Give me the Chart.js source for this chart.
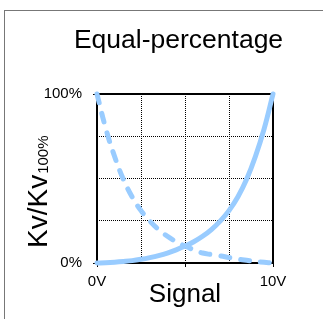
<!DOCTYPE html>
<html><head><meta charset="utf-8">
<script src="https://cdn.jsdelivr.net/npm/chart.js@4"></script>
<style>
html,body{margin:0;padding:0;background:#fff;overflow:hidden}
#wrap{position:relative;width:323px;height:319px}
#frame{position:absolute;left:4px;top:10px;width:400px;height:400px;border-top:1px solid #777;border-left:1px solid #777;box-sizing:border-box}
canvas{position:absolute;left:0;top:0}
</style></head><body>
<div id="wrap"><div id="frame"></div><canvas id="c" width="323" height="319"></canvas></div>
<script>
// Data
const signal = [0, 0.5, 1, 1.5, 2, 2.5, 3, 3.5, 4, 4.5, 5, 5.5, 6, 6.5, 7, 7.5, 8, 8.5, 9, 9.5, 10];
const kvSolid  = [0, 0.2, 0.5, 0.9, 1.4, 2.2, 3.2, 4.4, 5.9, 7.8, 10, 12.6, 15.8, 19.8, 24.8, 31, 39, 49.5, 63, 79.5, 100];
const kvDashed = [100, 79.5, 63, 49.5, 39, 31, 24.8, 19.8, 15.8, 12.6, 10, 7.8, 5.9, 5, 4.2, 3.2, 2.3, 1.6, 0.9, 0.4, 0];
const xTickValues = [0, 10];
const xTickText = ['0V', '10V'];
const xTickMarks = [0, 5, 10];
const yTickValues = [0, 100];
const yTickText = ['0%', '100%'];
const titleText = 'Equal-percentage';
const xTitleText = 'Signal';
const yTitleMain = 'Kv/Kv';
const yTitleSub = '100%';

const FONT = '"Liberation Sans", Arial, sans-serif';
const BLUE = '#99ccff';
Chart.defaults.color = '#000';
Chart.defaults.font.family = FONT;

const toPts = (xs, ys) => xs.map((x, i) => ({x, y: ys[i]}));

const framePlugin = {
  id: 'framePlugin',
  beforeDatasetsDraw(chart) {
    const {ctx, chartArea: a} = chart;
    ctx.save();
    ctx.strokeStyle = '#000';
    ctx.lineWidth = 2;
    ctx.strokeRect(a.left, a.top, a.right - a.left, a.bottom - a.top);
    ctx.restore();
  },
  afterDraw(chart) {
    const {ctx} = chart;
    ctx.save();
    ctx.fillStyle = '#000';
    ctx.translate(47, 248);
    ctx.rotate(-Math.PI / 2);
    ctx.textAlign = 'left';
    ctx.textBaseline = 'alphabetic';
    ctx.font = '28px ' + FONT;
    ctx.fillText(yTitleMain, 0, 0);
    const w = ctx.measureText(yTitleMain).width;
    ctx.font = '15px ' + FONT;
    ctx.fillText(yTitleSub, w + 1, 1);
    ctx.restore();
  }
};

new Chart(document.getElementById('c'), {
  type: 'line',
  data: {
    datasets: [
      {
        data: toPts(signal, kvSolid),
        borderColor: BLUE, borderWidth: 5, pointRadius: 0,
        tension: 0.4, borderCapStyle: 'round', clip: false
      },
      {
        data: toPts(signal, kvDashed),
        borderColor: BLUE, borderWidth: 5, pointRadius: 0,
        tension: 0.4, borderCapStyle: 'round',
        borderDash: [9, 11], clip: false
      }
    ]
  },
  options: {
    responsive: false,
    animation: false,
    devicePixelRatio: 1,
    layout: {padding: {left: 34, right: 0, top: 0, bottom: 0}},
    plugins: {
      legend: {display: false},
      tooltip: {enabled: false},
      title: {
        display: true, text: titleText, color: '#000',
        font: {size: 26.5, weight: 'normal', family: FONT},
        padding: {top: 24.6, bottom: 37.6}
      }
    },
    scales: {
      x: {
        type: 'linear', min: 0, max: 10,
        afterFit: (s) => { s.height = 56; },
        ticks: {
          stepSize: 2.5, autoSkip: false, maxRotation: 0, padding: 5.5,
          font: {size: 15, family: FONT}, color: '#000',
          callback: (v) => { const i = xTickValues.indexOf(v); return i >= 0 ? xTickText[i] : ''; }
        },
        grid: {
          color: '#000', lineWidth: 1, tickLength: 4,
          tickColor: (c) => (c.tick && xTickMarks.includes(c.tick.value)) ? '#000' : 'rgba(0,0,0,0)'
        },
        border: {display: false, dash: [1, 1]},
        title: {display: true, text: xTitleText, color: '#000', font: {size: 26, family: FONT}, padding: {top: 0, bottom: 9}}
      },
      y: {
        min: 0, max: 100,
        afterFit: (s) => { s.width = 63; },
        ticks: {
          stepSize: 25, autoSkip: false, padding: 11,
          font: {size: 15, family: FONT}, color: '#000',
          callback: (v) => { const i = yTickValues.indexOf(v); return i >= 0 ? yTickText[i] : ''; }
        },
        grid: {
          color: '#000', lineWidth: 1, tickLength: 4,
          tickColor: (c) => (c.tick && yTickValues.includes(c.tick.value)) ? '#000' : 'rgba(0,0,0,0)'
        },
        border: {display: false, dash: [1, 1]}
      },
      yRight: {
        position: 'right', min: 0, max: 100,
        afterFit: (s) => { s.width = 50; },
        ticks: {display: false},
        grid: {display: false},
        border: {display: false}
      }
    }
  },
  plugins: [framePlugin]
});
</script>
</body></html>
